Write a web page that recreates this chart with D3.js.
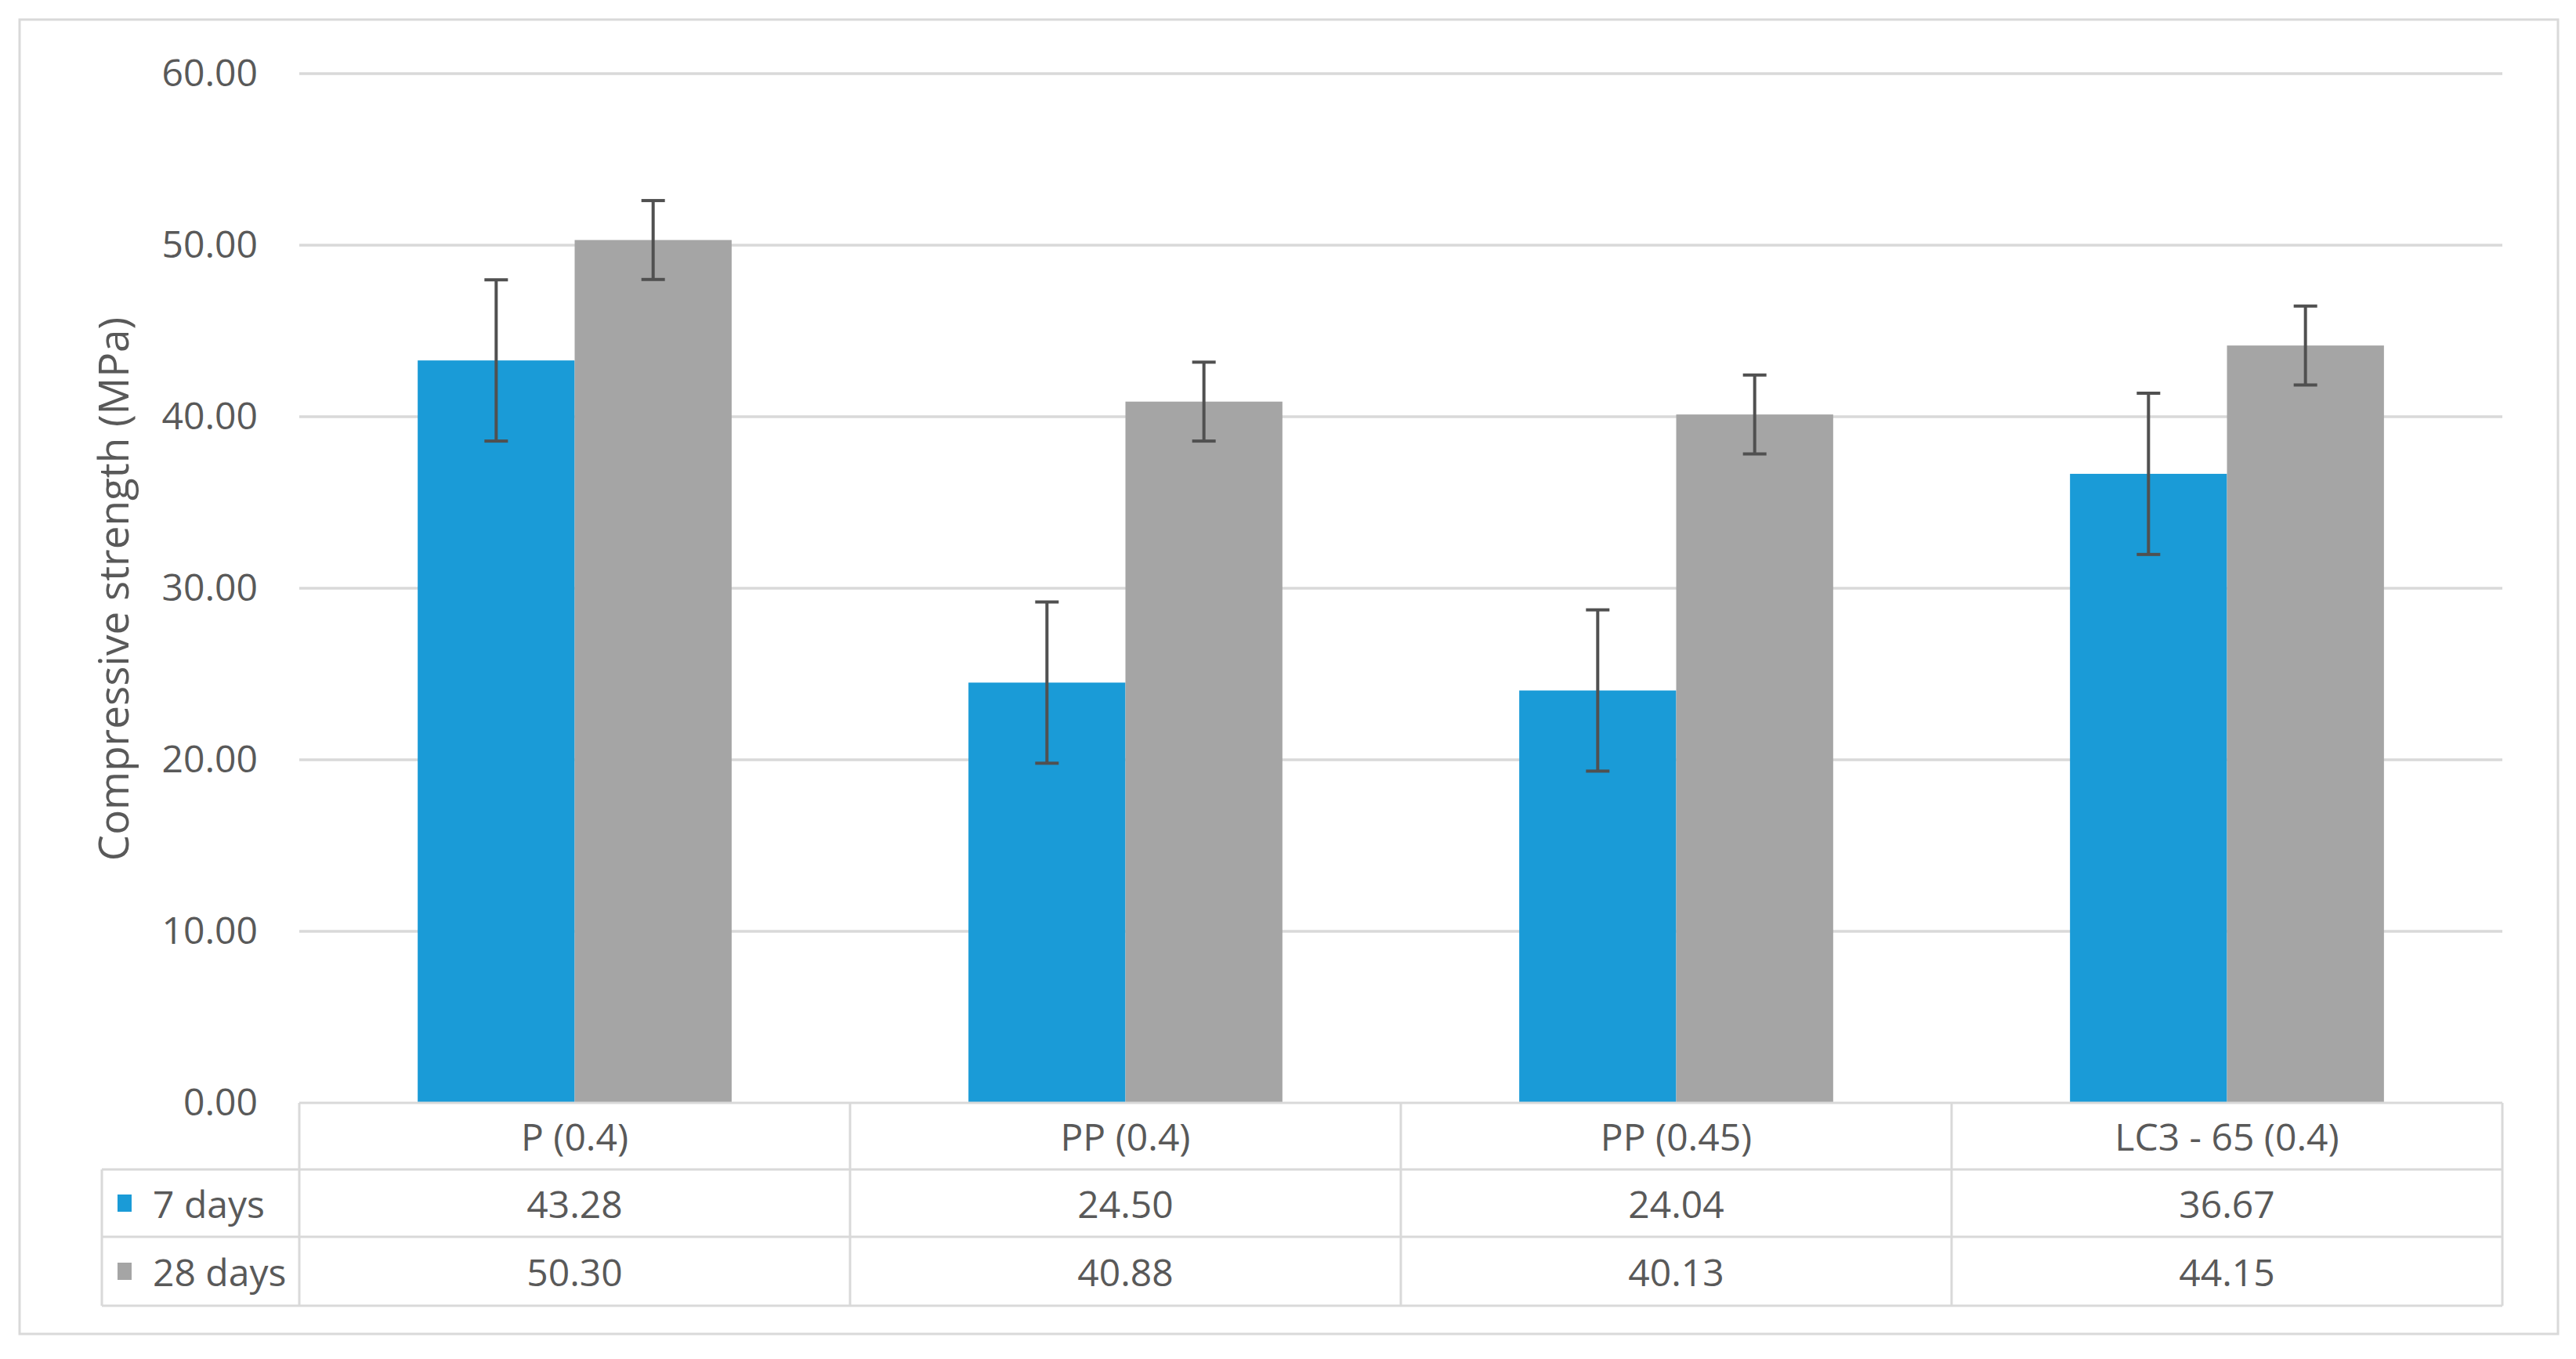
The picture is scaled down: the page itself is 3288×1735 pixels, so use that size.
<!DOCTYPE html>
<html>
<head>
<meta charset="utf-8">
<script src="https://cdn.jsdelivr.net/npm/d3@7"></script>
<style>
  html, body { margin: 0; padding: 0; background: #fff; }
  svg { display: block; }
  text { font-family: "Open Sans", sans-serif; fill: #595959; }
</style>
</head>
<body>
<script>
// ---- data ----
const categories = ["P (0.4)", "PP (0.4)", "PP (0.45)", "LC3 - 65 (0.4)"];
const seriesNames = ["7 days", "28 days"];
const values7 = [43.28, 24.50, 24.04, 36.67];
const values28 = [50.30, 40.88, 40.13, 44.15];
const errors7 = [4.7, 4.7, 4.7, 4.7];
const errors28 = [2.3, 2.3, 2.3, 2.3];
const yTicks = [0, 10, 20, 30, 40, 50, 60];
const colors = ["#1a9bd7", "#a5a5a5"];
const yTitle = "Compressive strength (MPa)";

const W = 3288, H = 1735;
const svg = d3.select("body").append("svg").attr("width", W).attr("height", H);

// outer frame
svg.append("rect").attr("x", 25).attr("y", 25).attr("width", 3240).attr("height", 1678)
  .attr("fill", "#fff").attr("stroke", "#d9d9d9").attr("stroke-width", 3);

const plotL = 382, plotR = 3194, plotT = 94, plotB = 1408;
const x = d3.scaleBand().domain(categories).range([plotL, plotR]).paddingInner(0).paddingOuter(0);
const y = d3.scaleLinear().domain([0, 60]).range([plotB, plotT]);
const groupW = x.bandwidth() * 0.57;
const xs = d3.scaleBand().domain(seriesNames).range([0, groupW]).padding(0);

// gridlines + y axis labels
const yAxis = d3.axisLeft(y).tickValues(yTicks).tickFormat(d3.format(".2f")).tickSize(0).tickPadding(53);
const gy = svg.append("g").attr("transform", `translate(${plotL},0)`).call(yAxis);
gy.select(".domain").remove();
gy.selectAll("text").style("font-size", "48px").attr("fill", "#595959").style("font-family", "'Open Sans', sans-serif");
svg.append("g").selectAll("line").data(yTicks.filter(d => d > 0)).join("line")
  .attr("x1", plotL).attr("x2", plotR).attr("y1", d => y(d)).attr("y2", d => y(d))
  .attr("stroke", "#d9d9d9").attr("stroke-width", 3.5);

// bars
const data = categories.map((c, i) => ({
  cat: c,
  items: [
    { s: seriesNames[0], v: values7[i], e: errors7[i], c: colors[0] },
    { s: seriesNames[1], v: values28[i], e: errors28[i], c: colors[1] }
  ]
}));
const groups = svg.append("g").selectAll("g").data(data).join("g")
  .attr("transform", d => `translate(${x(d.cat) + (x.bandwidth() - groupW) / 2},0)`);
groups.selectAll("rect").data(d => d.items).join("rect")
  .attr("x", d => xs(d.s)).attr("width", xs.bandwidth())
  .attr("y", d => y(d.v)).attr("height", d => y(0) - y(d.v))
  .attr("fill", d => d.c);

// error bars
const capW = 30;
const eb = groups.selectAll("g.eb").data(d => d.items).join("g").attr("class", "eb")
  .attr("stroke", "#505050").attr("stroke-width", 4);
eb.append("line")
  .attr("x1", d => xs(d.s) + xs.bandwidth() / 2).attr("x2", d => xs(d.s) + xs.bandwidth() / 2)
  .attr("y1", d => y(d.v + d.e)).attr("y2", d => y(d.v - d.e));
eb.append("line")
  .attr("x1", d => xs(d.s) + xs.bandwidth() / 2 - capW / 2).attr("x2", d => xs(d.s) + xs.bandwidth() / 2 + capW / 2)
  .attr("y1", d => y(d.v + d.e)).attr("y2", d => y(d.v + d.e));
eb.append("line")
  .attr("x1", d => xs(d.s) + xs.bandwidth() / 2 - capW / 2).attr("x2", d => xs(d.s) + xs.bandwidth() / 2 + capW / 2)
  .attr("y1", d => y(d.v - d.e)).attr("y2", d => y(d.v - d.e));

// y axis title
svg.append("text")
  .attr("transform", `translate(143,752) rotate(-90)`)
  .attr("text-anchor", "middle").attr("dominant-baseline", "central")
  .style("font-size", "53px").text(yTitle);

// data table
const rows = [plotB, 1493, 1579, 1667];
const legendL = 130;
const tbl = svg.append("g").attr("stroke", "#d9d9d9").attr("stroke-width", 3);
tbl.append("line").attr("x1", plotL).attr("x2", plotR).attr("y1", rows[0]).attr("y2", rows[0]);
[rows[1], rows[2], rows[3]].forEach(r => {
  tbl.append("line").attr("x1", legendL).attr("x2", plotR).attr("y1", r).attr("y2", r);
});
tbl.append("line").attr("x1", legendL).attr("x2", legendL).attr("y1", rows[1]).attr("y2", rows[3]);
categories.forEach(c => {
  tbl.append("line").attr("x1", x(c)).attr("x2", x(c)).attr("y1", rows[0]).attr("y2", rows[3]);
});
tbl.append("line").attr("x1", plotR).attr("x2", plotR).attr("y1", rows[0]).attr("y2", rows[3]);

const rowMid = i => (rows[i] + rows[i + 1]) / 2;
svg.append("g").selectAll("text").data(categories).join("text")
  .attr("x", d => x(d) + x.bandwidth() / 2).attr("y", rowMid(0))
  .attr("text-anchor", "middle").attr("dominant-baseline", "central")
  .style("font-size", "48px").text(d => d);

[values7, values28].forEach((vals, si) => {
  svg.append("g").selectAll("text").data(vals).join("text")
    .attr("x", (d, i) => x(categories[i]) + x.bandwidth() / 2).attr("y", rowMid(si + 1))
    .attr("text-anchor", "middle").attr("dominant-baseline", "central")
    .style("font-size", "48px").text(d => d3.format(".2f")(d));
  svg.append("rect").attr("x", 150).attr("y", rowMid(si + 1) - 11).attr("width", 18).attr("height", 22)
    .attr("fill", colors[si]);
  svg.append("text").attr("x", 195).attr("y", rowMid(si + 1))
    .attr("dominant-baseline", "central").style("font-size", "48px").text(seriesNames[si]);
});
</script>
</body>
</html>
